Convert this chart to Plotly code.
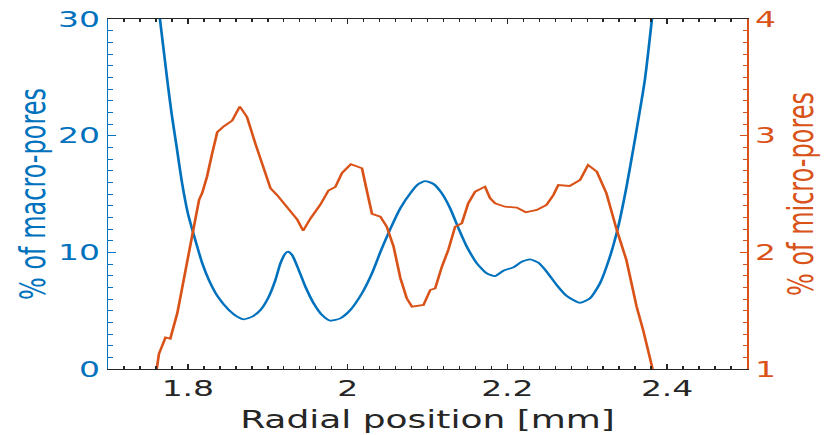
import plotly.graph_objects as go

# Radial position [mm] and pore fractions [%]
macro_x = [1.765, 1.7742, 1.7796, 1.7859, 1.7921, 1.800, 1.8063, 1.8117, 1.818, 1.8263,
           1.8375, 1.8513, 1.8617, 1.870, 1.8805, 1.8909, 1.9013, 1.9096, 1.9159, 1.9221,
           1.9255, 1.9305, 1.9388, 1.9471, 1.9575, 1.968, 1.9784, 1.9909, 2.0034, 2.018,
           2.0305, 2.042, 2.0534, 2.0659, 2.0784, 2.0888, 2.0971, 2.1075, 2.118, 2.1284,
           2.1388, 2.1492, 2.1618, 2.1743, 2.1846, 2.195, 2.2075, 2.218, 2.2284, 2.2388,
           2.2492, 2.2617, 2.2742, 2.2909, 2.3034, 2.3159, 2.3284, 2.3388, 2.3492, 2.3596,
           2.3721, 2.381]
macro_pct = [30.0, 24.77, 21.9, 19.06, 16.2, 13.34, 11.77, 10.49, 9.06, 7.63,
             6.2, 5.06, 4.49, 4.26, 4.49, 5.06, 6.2, 7.63, 9.06, 9.91,
             10.06, 9.77, 8.49, 7.06, 5.63, 4.63, 4.14, 4.34, 5.06, 6.49,
             8.2, 10.2, 12.0, 13.77, 15.06, 15.86, 16.11, 15.86, 15.06, 13.77,
             12.06, 10.49, 9.06, 8.2, 7.97, 8.43, 8.71, 9.2, 9.4, 9.11,
             8.34, 7.2, 6.26, 5.68, 6.06, 7.34, 9.63, 12.2, 15.63, 19.63,
             24.77, 30.0]

micro_x = [1.761, 1.7638, 1.772, 1.778, 1.7868, 1.799, 1.8075, 1.814, 1.818, 1.824,
           1.8305, 1.8368, 1.845, 1.8555, 1.865, 1.874, 1.8846, 1.895, 1.9034, 1.9118,
           1.924, 1.937, 1.9443, 1.9534, 1.966, 1.976, 1.9846, 1.993, 2.004, 2.018,
           2.024, 2.0305, 2.041, 2.049, 2.0575, 2.066, 2.074, 2.0805, 2.095, 2.1034,
           2.1096, 2.118, 2.126, 2.1346, 2.143, 2.151, 2.1596, 2.172, 2.1784, 2.1846,
           2.197, 2.2118, 2.223, 2.2368, 2.249, 2.2575, 2.2638, 2.278, 2.291, 2.301,
           2.312, 2.324, 2.337, 2.349, 2.3618, 2.370, 2.3818]
micro_pct = [1.0, 1.13, 1.27, 1.26, 1.48, 1.93, 2.25, 2.45, 2.51, 2.65,
             2.85, 3.03, 3.08, 3.13, 3.25, 3.16, 2.93, 2.71, 2.55, 2.49,
             2.39, 2.28, 2.185, 2.29, 2.41, 2.53, 2.56, 2.68, 2.755, 2.72,
             2.53, 2.33, 2.306, 2.22, 2.05, 1.78, 1.606, 1.534, 1.549, 1.677,
             1.691, 1.877, 2.02, 2.22, 2.249, 2.42, 2.52, 2.563, 2.463, 2.42,
             2.391, 2.383, 2.343, 2.363, 2.406, 2.491, 2.577, 2.569, 2.62, 2.749,
             2.691, 2.506, 2.191, 1.934, 1.534, 1.334, 1.0]

BLUE = "#0072BD"
ORANGE = "#D95319"
DARK = "#262626"
FONT = "DejaVu Sans"

# The figure is laid out narrow and widened horizontally on the page
STRETCH = 1.5
W = 832 / STRETCH
H = 435

fig = go.Figure()
fig.add_trace(go.Scatter(x=macro_x, y=macro_pct, mode="lines",
                         line=dict(color=BLUE, width=1.8, shape="spline", smoothing=0.6),
                         yaxis="y", showlegend=False))
fig.add_trace(go.Scatter(x=micro_x, y=micro_pct, mode="lines",
                         line=dict(color=ORANGE, width=1.8),
                         yaxis="y2", showlegend=False))

fig.update_layout(
    width=W, height=H,
    margin=dict(l=107.3 / STRETCH, r=W - 746.7 / STRETCH, t=19, b=66, pad=0),
    paper_bgcolor="white", plot_bgcolor="white",
    font=dict(family=FONT, color=DARK),
    xaxis=dict(range=[1.7, 2.5], tick0=1.8, dtick=0.2, automargin=False,
               showgrid=False, zeroline=False,
               showline=True, linecolor=DARK, linewidth=1, mirror="ticks",
               ticks="inside", ticklen=5, tickcolor=DARK, tickwidth=1,
               minor=dict(tick0=1.7, dtick=0.02, ticks="inside", ticklen=3,
                          tickcolor=DARK, showgrid=False),
               tickfont=dict(size=22, color=DARK, family=FONT),
               title=dict(text="Radial position [mm]", standoff=10,
                          font=dict(size=24, color=DARK, family=FONT))),
    yaxis=dict(range=[0, 30], tick0=0, dtick=10, automargin=False,
               showgrid=False, zeroline=False,
               showline=True, linecolor=BLUE, linewidth=1,
               ticks="inside", ticklen=5, tickcolor=BLUE,
               minor=dict(dtick=1, ticks="inside", ticklen=3, tickcolor=BLUE,
                          showgrid=False),
               tickfont=dict(size=22, color=BLUE, family=FONT),
               title=dict(text="% of macro-pores", standoff=1,
                          font=dict(size=24, color=BLUE, family=FONT))),
    yaxis2=dict(range=[1, 4], tick0=1, dtick=1, overlaying="y", side="right",
                automargin=False,
                showgrid=False, zeroline=False,
                showline=True, linecolor=ORANGE, linewidth=1,
                ticks="inside", ticklen=5, tickcolor=ORANGE,
                minor=dict(dtick=0.1, ticks="inside", ticklen=3, tickcolor=ORANGE,
                           showgrid=False),
                tickfont=dict(size=22, color=ORANGE, family=FONT),
                title=dict(text="% of micro-pores", standoff=8,
                           font=dict(size=24, color=ORANGE, family=FONT))),
)

stretch_js = """
document.body.style.margin = '0';
var gd = document.getElementById('{plot_id}');
gd.style.transformOrigin = '0 0';
gd.style.transform = 'scaleX(%s)';
""" % (832 / W)

fig.write_html("out.html", post_script=stretch_js,
               config={"displayModeBar": False})
